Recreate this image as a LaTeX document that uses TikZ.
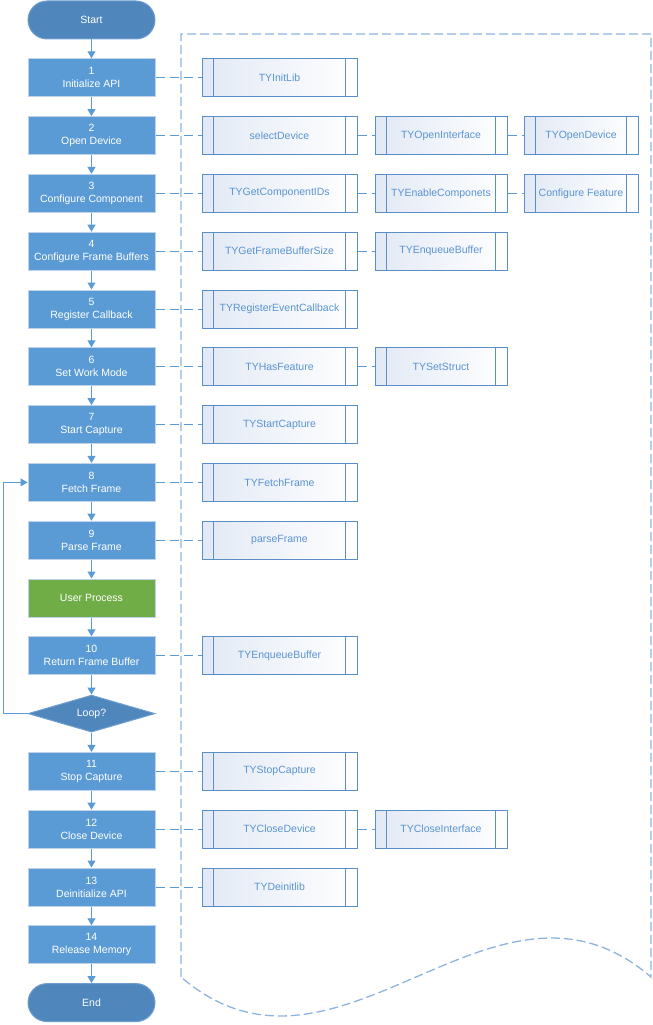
\documentclass[tikz,border=0pt]{standalone}
\usepackage{fontspec}
\setmainfont{Liberation Sans}
\usetikzlibrary{arrows.meta,shapes.geometric}
\definecolor{stepblue}{HTML}{5B9BD5}
\definecolor{termblue}{HTML}{4F87BD}
\definecolor{termline}{HTML}{6F9FCF}
\definecolor{stepline}{HTML}{BFD3EA}
\definecolor{usergreen}{HTML}{70AD47}
\definecolor{apiline}{HTML}{5B8EC6}
\definecolor{apitext}{HTML}{5A94D2}
\definecolor{apifill}{HTML}{E2E9F5}
\definecolor{docline}{HTML}{8DB3DF}
\tikzset{
  stepbox/.style={rectangle, fill=stepblue, draw=stepline, line width=1pt,
    minimum width=127pt, minimum height=38pt, inner sep=0pt,
    text=white, align=center},
  termbox/.style={stepbox, fill=termblue, draw=termline, rounded corners=19pt},
  userbox/.style={stepbox, fill=usergreen},
  choice/.style={diamond, aspect=3.4, fill=termblue, draw=termline, line width=1pt,
    minimum width=127pt, minimum height=37pt, inner sep=0pt, text=white},
  apibox/.style={rectangle, draw=apiline, line width=1pt, left color=apifill,
    right color=white, minimum height=38pt, inner sep=0pt, text=apitext,
    path picture={\draw[apiline, line width=0.8pt]
      ([xshift=11.5pt]path picture bounding box.north west) --
      ([xshift=11.5pt]path picture bounding box.south west)
      ([xshift=-11.5pt]path picture bounding box.north east) --
      ([xshift=-11.5pt]path picture bounding box.south east);}},
  flow/.style={draw=stepblue, line width=1pt, -{Triangle[width=8pt,length=7pt]}},
  link/.style={draw=stepblue, line width=1pt, dash pattern=on 9pt off 5pt},
  docshape/.style={draw=docline, line width=1.3pt, dash pattern=on 9pt off 4pt}
}
\begin{document}
\begin{tikzpicture}[x=1pt, y=-1pt, font=\fontsize{10.5}{13}\selectfont]
\useasboundingbox (0,0) rectangle (653,1025);
% document frame behind the API calls
\draw[docshape] (181,977) -- (181,34) -- (651,34) -- (651,977)
  .. controls (494,842) and (338,1112) .. (181,977);
% main flow
\node[termbox] (start) at (91.5,20) {Start};
\node[stepbox] (init) at (91.5,77.8) {1\\Initialize API};
\node[stepbox] (open) at (91.5,135.6) {2\\Open Device};
\node[stepbox] (conf) at (91.5,193.4) {3\\Configure Component};
\node[stepbox] (bufs) at (91.5,251.2) {4\\Configure Frame Buffers};
\node[stepbox] (cb) at (91.5,309) {5\\Register Callback};
\node[stepbox] (mode) at (91.5,366.8) {6\\Set Work Mode};
\node[stepbox] (cap) at (91.5,424.6) {7\\Start Capture};
\node[stepbox] (fetch) at (91.5,482.4) {8\\Fetch Frame};
\node[stepbox] (parse) at (91.5,540.2) {9\\Parse Frame};
\node[userbox] (user) at (91.5,598) {User Process};
\node[stepbox] (ret) at (91.5,655.8) {10\\Return Frame Buffer};
\node[choice] (loop) at (91.5,713.6) {Loop?};
\node[stepbox] (stopcap) at (91.5,771.4) {11\\Stop Capture};
\node[stepbox] (close) at (91.5,829.2) {12\\Close Device};
\node[stepbox] (deinit) at (91.5,887) {13\\Deinitialize API};
\node[stepbox] (rel) at (91.5,944.8) {14\\Release Memory};
\node[termbox] (finish) at (91.5,1002.6) {End};
\foreach \a/\b in {start/init, init/open, open/conf, conf/bufs, bufs/cb, cb/mode,
    mode/cap, cap/fetch, fetch/parse, parse/user, user/ret, ret/loop,
    loop/stopcap, stopcap/close, close/deinit, deinit/rel, rel/finish}
  \draw[flow] (\a) -- (\b);
\draw[flow] (loop.west) -- (3,713.6) |- (fetch.west);
% API calls
\node[apibox, minimum width=155pt] (libinit) at (279.5,77.8) {TYInitLib};
\node[apibox, minimum width=155pt] (seldev) at (279.5,135.6) {selectDevice};
\node[apibox, minimum width=132pt] (openif) at (441,135.6) {TYOpenInterface};
\node[apibox, minimum width=114pt] (opendev) at (581,135.6) {TYOpenDevice};
\node[apibox, minimum width=155pt] (compids) at (279.5,193.4) {TYGetComponentIDs};
\node[apibox, minimum width=132pt] (enable) at (441,193.4) {TYEnableComponets};
\node[apibox, minimum width=114pt] (feature) at (581,193.4) {Configure Feature};
\node[apibox, minimum width=155pt] (bufsize) at (279.5,251.2) {TYGetFrameBufferSize};
\node[apibox, minimum width=132pt] (enq) at (441,251.2) {TYEnqueueBuffer};
\node[apibox, minimum width=155pt] (regcb) at (279.5,309) {TYRegisterEventCallback};
\node[apibox, minimum width=155pt] (hasfeat) at (279.5,366.8) {TYHasFeature};
\node[apibox, minimum width=132pt] (setst) at (441,366.8) {TYSetStruct};
\node[apibox, minimum width=155pt] (startcap) at (279.5,424.6) {TYStartCapture};
\node[apibox, minimum width=155pt] (fetchfr) at (279.5,482.4) {TYFetchFrame};
\node[apibox, minimum width=155pt] (parsefr) at (279.5,540.2) {parseFrame};
\node[apibox, minimum width=155pt] (reenq) at (279.5,655.8) {TYEnqueueBuffer};
\node[apibox, minimum width=155pt] (stopfn) at (279.5,771.4) {TYStopCapture};
\node[apibox, minimum width=155pt] (closedev) at (279.5,829.2) {TYCloseDevice};
\node[apibox, minimum width=132pt] (closeif) at (441,829.2) {TYCloseInterface};
\node[apibox, minimum width=155pt] (deinitlib) at (279.5,887) {TYDeinitlib};
% dashed links
\foreach \a/\b in {init/libinit, open/seldev, seldev/openif, openif/opendev,
    conf/compids, compids/enable, enable/feature, bufs/bufsize, bufsize/enq,
    cb/regcb, mode/hasfeat, hasfeat/setst, cap/startcap, fetch/fetchfr,
    parse/parsefr, ret/reenq, stopcap/stopfn, close/closedev, closedev/closeif,
    deinit/deinitlib}
  \draw[link] (\a) -- (\b);
\end{tikzpicture}
\end{document}
